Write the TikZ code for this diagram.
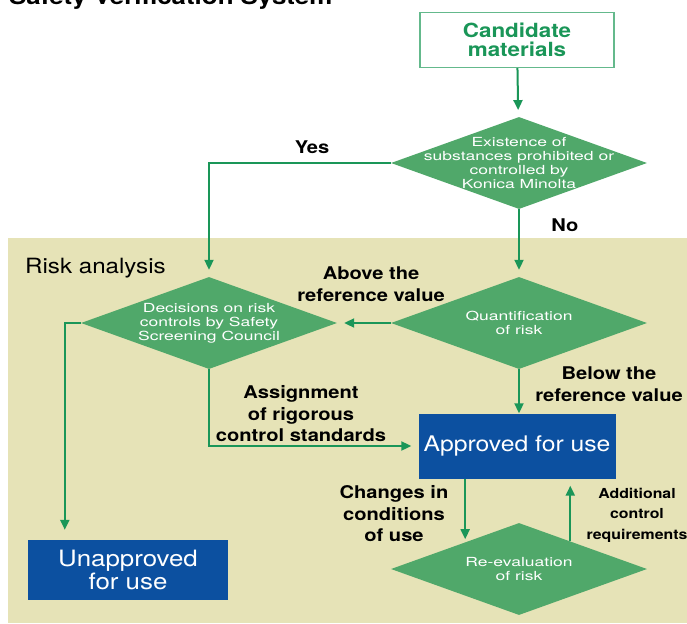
\documentclass[tikz,border=0pt]{standalone}
\usepackage{fontspec}
\setmainfont{TeX Gyre Heros}[FakeStretch=1.15]
\newfontfamily\dfont{TeX Gyre Heros}[FakeStretch=1.4]
\usetikzlibrary{shapes.geometric,arrows.meta,positioning,calc}
\definecolor{flowgreen}{RGB}{26,150,88}
\definecolor{diagreen}{RGB}{80,168,106}
\definecolor{candgreen}{RGB}{100,185,140}
\definecolor{riskbg}{RGB}{230,227,183}
\definecolor{kmblue}{RGB}{12,80,160}
\tikzset{decision/.style={diamond, fill=diagreen, minimum width=256pt, minimum height=92pt, inner sep=0pt},
dtext/.style={text=white, align=center, font=\dfont\fontsize{12.5}{14}\selectfont},
bluebox/.style={fill=kmblue, text=white, align=center, font=\fontsize{21.5}{19}\selectfont},
flow/.style={draw=flowgreen, line width=2pt, -{Triangle[length=10pt,width=9pt]}, shorten >=7pt},
lbl/.style={align=center, font=\bfseries\fontsize{17.5}{21.5}\selectfont}}

\begin{document}
\begin{tikzpicture}[x=1pt,y=-1pt]
\useasboundingbox (0,0) rectangle (687,623);

% risk analysis area
\fill[riskbg] (8,238) rectangle (687,623);
\node[anchor=base west, inner sep=0pt, font=\bfseries\fontsize{22.5}{22}\selectfont] (title) at (9,5) {Safety Verification System};
\node[anchor=west, inner sep=0pt, font=\fontsize{21}{21}\selectfont] (risk) at (25,268) {Risk analysis};

\node[draw=candgreen, line width=1.2pt, fill=white, text=flowgreen, align=center,
  minimum width=194pt, minimum height=55pt, font=\bfseries\fontsize{19.5}{19.5}\selectfont] (cand) at (517,40) {Candidate\\materials};

\node[decision] (exist) at (519,163) {};
\node[dtext] at (exist) {Existence of\\substances prohibited or\\controlled by\\Konica Minolta};
\node[decision] (quant) at (519,323) {};
\node[dtext] at (quant) {Quantification\\of risk};
\node[decision] (decide) at (209,323) {};
\node[dtext] at (decide) {Decisions on risk\\controls by Safety\\Screening Council};
\node[decision] (reeval) at (519,569) {};
\node[dtext] at (reeval) {Re-evaluation\\of risk};

\node[bluebox, minimum width=197pt, minimum height=65pt] (approved) at (517,446) {Approved for use};
\node[bluebox, minimum width=200pt, minimum height=60pt, font=\fontsize{22.5}{18.5}\selectfont] (unapproved) at (128,570) {Unapproved\\for use};

\coordinate (chg) at ($(reeval.west)!0.58!(reeval.north)$);
\coordinate (addl) at ($(reeval.north)!0.4!(reeval.east)$);
\coordinate (bend) at ($(decide.west)+(-16,0)$);

\draw[flow] (cand) -- (exist);
\draw[flow] (exist.west) -| (decide.north);
\draw[flow] (exist.south) -- (quant.north);
\draw[flow] (quant.west) -- (decide.east);
\draw[flow, shorten >=0pt] (quant.south) -- (approved.north -| quant.south);
\draw[flow] (decide.south) |- (approved.west);
\draw[flow, shorten >=10pt] (decide.west) -- (bend) -- (bend |- unapproved.north);
\draw[flow, shorten >=3pt] (approved.south -| chg) -- (chg);
\draw[flow] (addl) -- (addl |- approved.south);

\node[lbl] (yes) at (312,147) {Yes};
\node[lbl] (no) at (565,225) {No};
\node[lbl] (above) at (371,284) {Above the\\reference value};
\node[lbl] (below) at (609,384) {Below the\\reference value};
\node[lbl] (assign) at (301,414) {Assignment\\of rigorous\\control standards};
\node[lbl] (changes) at (394,514) {Changes in\\conditions\\of use};
\node[lbl, font=\bfseries\fontsize{13.8}{20.5}\selectfont] (additional) at (637,515) {Additional\\control\\requirements};

\end{tikzpicture}
\end{document}
